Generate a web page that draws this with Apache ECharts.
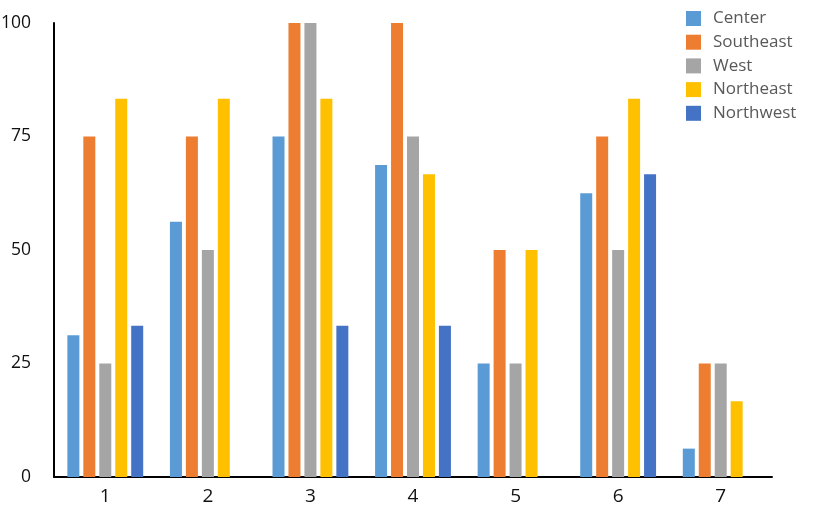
<!DOCTYPE html>
<html>
<head>
<meta charset="utf-8">
<script src="https://cdn.jsdelivr.net/npm/echarts@6/dist/echarts.min.js"></script>
<style>
html,body{margin:0;padding:0;background:#fff;}
#c{width:820px;height:511px;}
</style>
</head>
<body>
<div id="c"></div>
<script>
var categories = ['1','2','3','4','5','6','7'];
var center    = [31.25, 56.25, 75, 68.75, 25, 62.5, 6.25];
var southeast = [75, 75, 100, 100, 50, 75, 25];
var west      = [25, 50, 100, 75, 25, 50, 25];
var northeast = [83.33, 83.33, 83.33, 66.67, 50, 83.33, 16.67];
var northwest = [33.33, 0, 33.33, 33.33, 0, 66.67, 0];
var seriesNames = ['Center','Southeast','West','Northeast','Northwest'];
var yTicks = [0, 25, 50, 75, 100];

var colors = ['#5B9BD5','#ED7D31','#A5A5A5','#FFC000','#4472C4'];
var dataSets = [center, southeast, west, northeast, northwest];
var font = 'Open Sans';

var chart = echarts.init(document.getElementById('c'));
chart.setOption({
  animation: false,
  color: colors,
  grid: {left: 54, right: 48, top: 23, bottom: 34, containLabel: false, outerBoundsMode: 'none'},
  legend: {
    orient: 'vertical',
    left: 686, top: 10, padding: 0,
    itemWidth: 15, itemHeight: 15, itemGap: 6.7,
    icon: 'rect',
    textStyle: {fontFamily: font, fontSize: 17, color: '#595959', lineHeight: 15, padding: [0,0,0,7]},
    data: seriesNames
  },
  xAxis: {
    type: 'category',
    data: categories,
    axisLine: {lineStyle: {color: '#000', width: 2}},
    axisTick: {show: false},
    axisLabel: {fontFamily: font, fontSize: 19, color: '#111', margin: 10}
  },
  yAxis: {
    type: 'value',
    min: yTicks[0], max: yTicks[yTicks.length-1], interval: 25,
    axisLine: {show: true, lineStyle: {color: '#000', width: 2}},
    axisTick: {show: false},
    splitLine: {show: false},
    axisLabel: {fontFamily: font, fontSize: 17.5, color: '#111', margin: 23}
  },
  series: seriesNames.map(function(n, i){
    return {name: n, type: 'bar', data: dataSets[i], barWidth: 12, barGap: '33%'};
  })
});
</script>
</body>
</html>
